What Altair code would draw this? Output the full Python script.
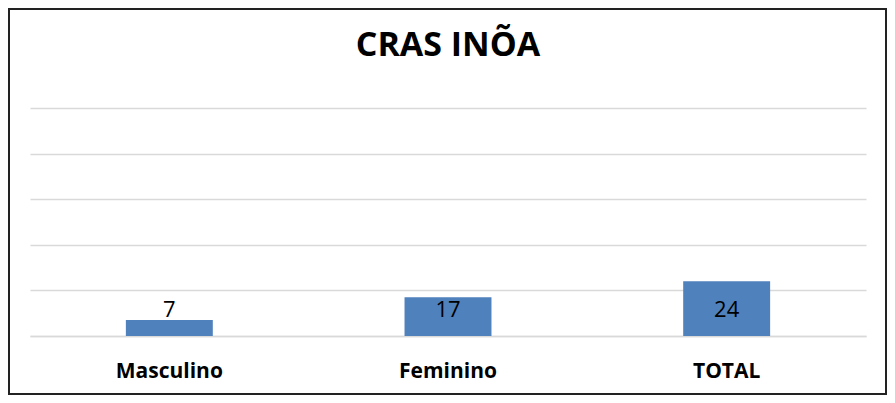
import altair as alt
import pandas as pd

categories = ["Masculino", "Feminino", "TOTAL"]
values = [7, 17, 24]
y_ticks = [0, 20, 40, 60, 80, 100]

df = pd.DataFrame({"categoria": categories, "valor": values})

FONT = "Open Sans"

x = alt.X("categoria:N", sort=categories,
          scale=alt.Scale(paddingInner=0.688, paddingOuter=0.344),
          axis=alt.Axis(title=None, labelAngle=0, labelFont=FONT, labelFontSize=21,
                        labelFontWeight="bold", labelColor="#000000", ticks=False, tickSize=0,
                        labelBaseline="alphabetic", labelPadding=41, domain=True,
                        domainColor="#d9d9d9", domainWidth=1.5))
y_scale = alt.Scale(domain=[0, 100], nice=False)

bars = alt.Chart(df).mark_bar(color="#4f81bd").encode(
    x=x,
    y=alt.Y("valor:Q", scale=y_scale,
            axis=alt.Axis(title=None, labels=False, ticks=False, domain=False,
                          values=y_ticks, grid=True, gridColor="#d9d9d9", gridWidth=1.5)),
)

labels = alt.Chart(df).mark_text(font=FONT, fontSize=22, color="#000000",
                                 baseline="alphabetic", align="center").encode(
    x=alt.X("categoria:N", sort=categories),
    y=alt.YDatum(8.3, scale=y_scale),
    text=alt.Text("valor:Q"),
)

border = alt.Chart(df).mark_rect(fill=None, stroke="#222222", strokeWidth=2).encode(
    x=alt.value(-21), x2=alt.value(856), y=alt.value(-99), y2=alt.value(286)
)

chart = alt.layer(bars, labels, border).properties(
    width=836, height=228,
    padding={"left": 22, "right": 21, "top": 100, "bottom": 59},
    autosize=alt.AutoSizeParams(type="none"),
    title=alt.TitleParams("CRAS INÕA", font=FONT, fontSize=34, fontWeight="bold",
                          color="#000000", anchor="middle", baseline="alphabetic",
                          frame="group", offset=-82),
).configure_view(stroke=None)

chart.save("out.html", embed_options={"renderer": "svg", "actions": False})
